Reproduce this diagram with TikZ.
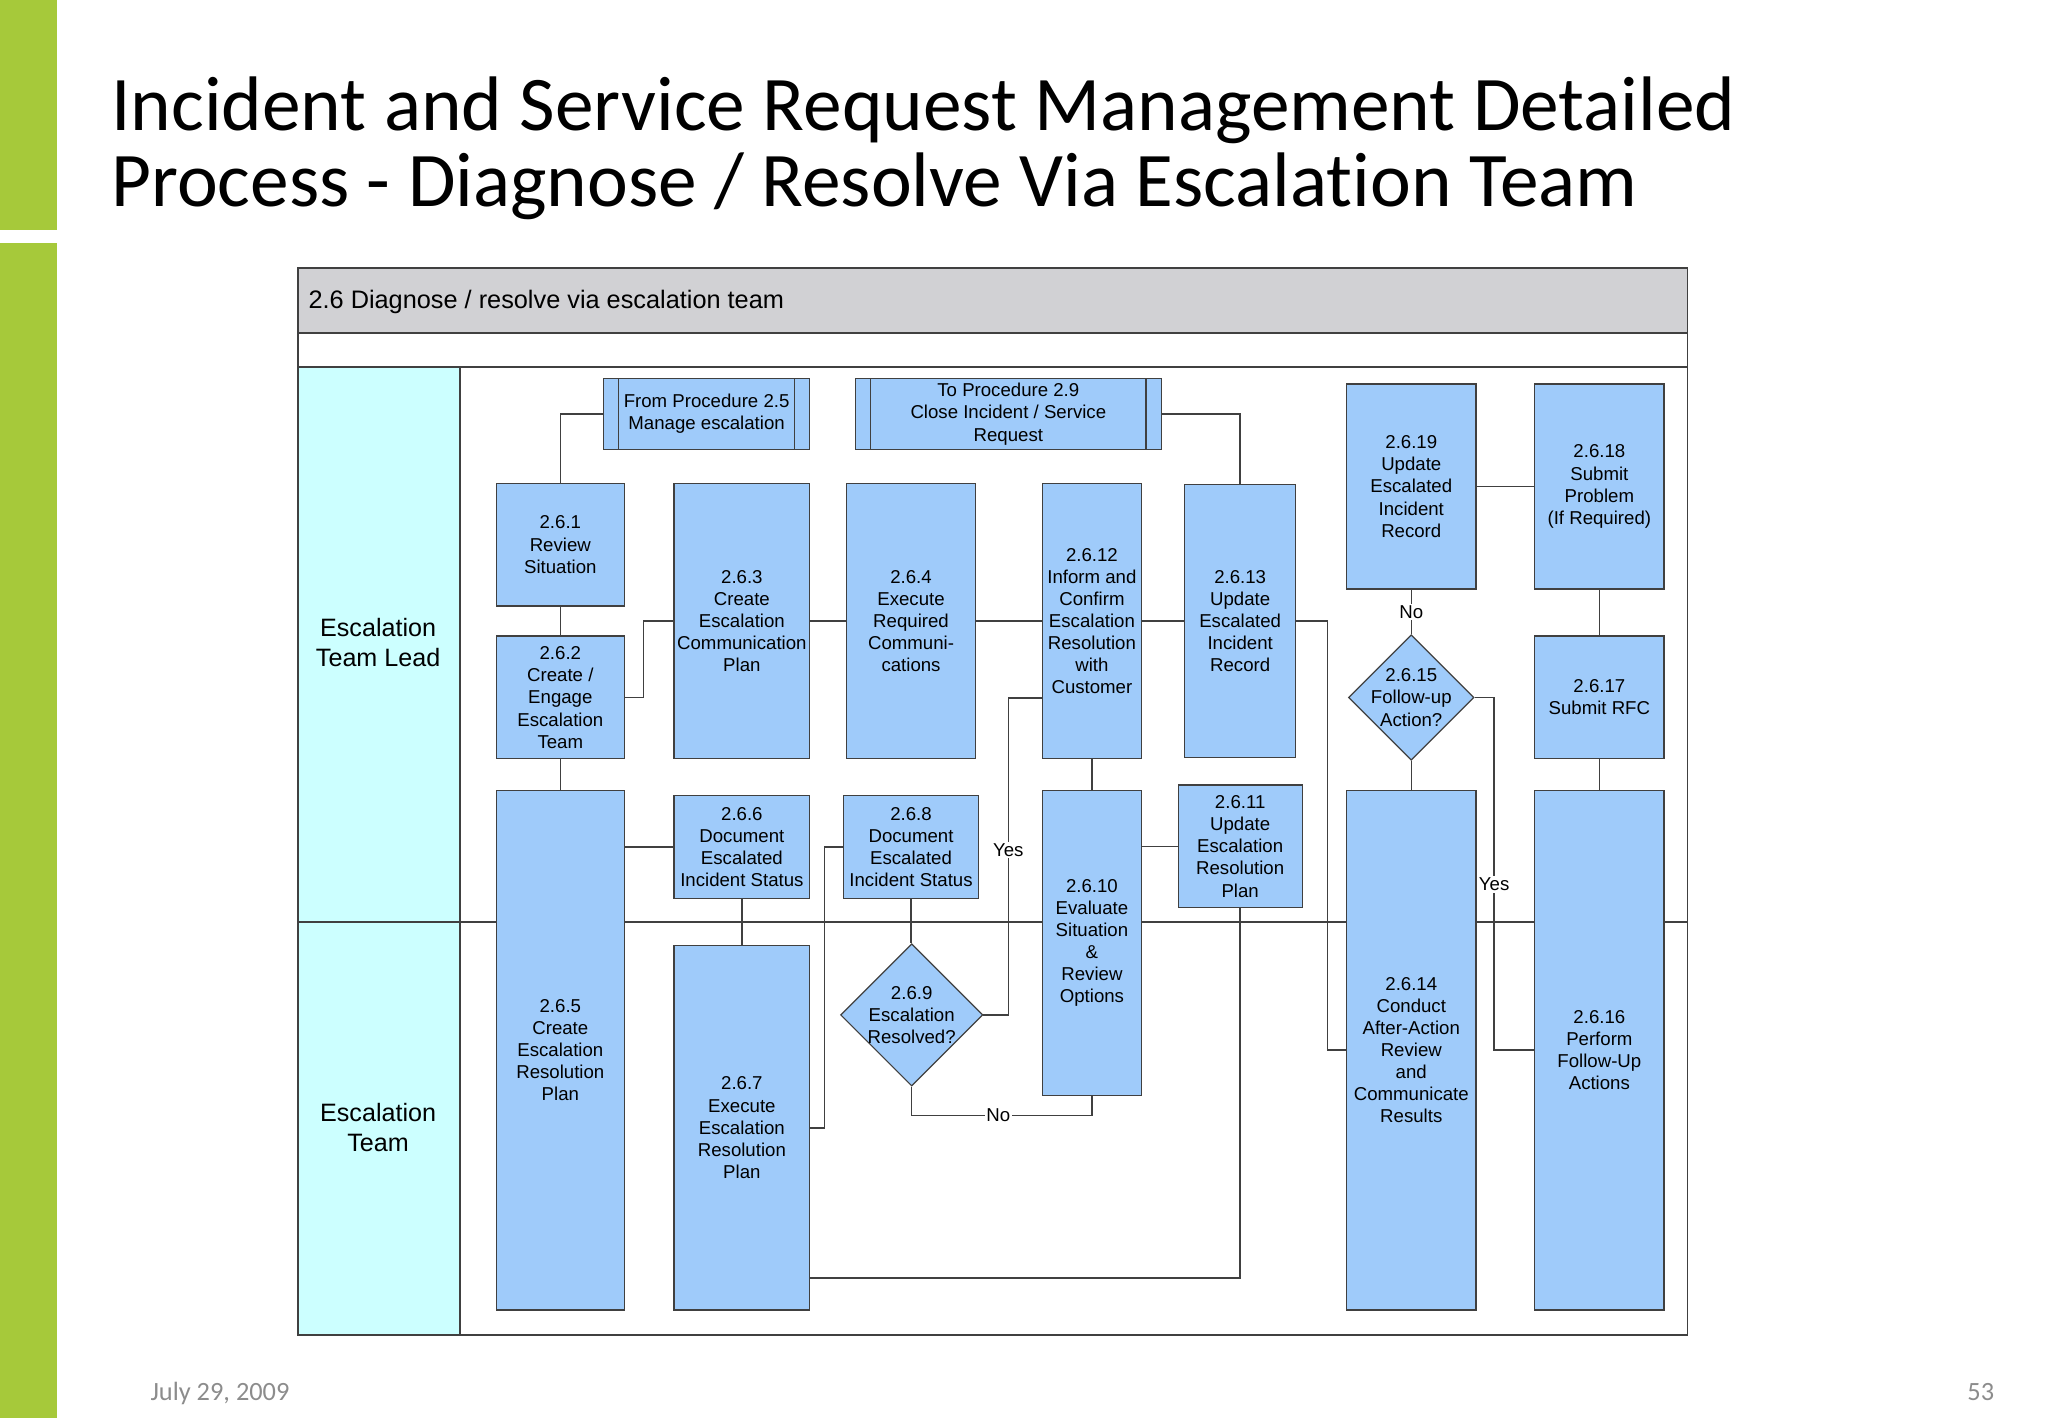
\documentclass[tikz,border=0pt]{standalone}
\usepackage{fontspec}
\setmainfont{Liberation Sans}
\newfontfamily\tituloFont[Ligatures=NoCommon]{Carlito}
\usetikzlibrary{shapes.geometric,calc}
\definecolor{cajaAzul}{RGB}{159,203,250}
\definecolor{lineaGris}{RGB}{64,64,64}
\definecolor{carrilCian}{RGB}{204,255,255}
\definecolor{cabGris}{RGB}{209,209,212}
\definecolor{verdeBarra}{RGB}{166,201,58}
\definecolor{pieGris}{RGB}{140,140,140}
\newcommand{\pxu}{0.02612cm}
\newcommand{\textoCaja}{\fontsize{10.6pt}{12.6pt}\selectfont}
\tikzset{
  tam/.style 2 args={minimum width=#1*\pxu, minimum height=#2*\pxu},
  caja/.style={rectangle, draw=lineaGris, line width=0.7pt, fill=cajaAzul,
    align=center, font=\textoCaja, inner sep=1pt},
  decision/.style={diamond, draw=lineaGris, line width=0.7pt, fill=cajaAzul,
    inner sep=0pt, minimum size=#1*\pxu},
  textoDecision/.style={align=center, font=\textoCaja, inner sep=0pt},
  carril/.style={align=center, font=\fontsize{14.3pt}{17pt}\selectfont},
  etiqueta/.style={fill=white, inner sep=1pt, font=\textoCaja},
  conector/.style={draw=lineaGris, line width=0.8pt},
  marco/.style={draw=lineaGris, line width=1pt},
}

\begin{document}
\begin{tikzpicture}[x=\pxu, y=-\pxu]
    \useasboundingbox (0,0) rectangle (1568,1086);
    % slide
    \fill[verdeBarra] (0,0) rectangle (44,176);
    \fill[verdeBarra] (0,186) rectangle (44,1086);
    \node[anchor=base west, inner sep=0pt, font=\tituloFont\fontsize{44pt}{50pt}\selectfont] (titulo1) at (85,100)
          {Incident and Service Request Management Detailed};
    \node[anchor=base west, inner sep=0pt, font=\tituloFont\fontsize{44pt}{50pt}\selectfont] (titulo2) at (85,158)
          {Process - Diagnose / Resolve Via Escalation Team};
    \node[anchor=base west, inner sep=0pt, text=pieGris, font=\tituloFont\fontsize{15pt}{17pt}\selectfont] (fecha) at (115,1072) {July 29, 2009};
    \node[anchor=base east, inner sep=0pt, text=pieGris, font=\tituloFont\fontsize{15pt}{17pt}\selectfont] (pagina) at (1527,1072) {53};

    % swimlane frame
    \fill[cabGris] (228,205) rectangle (1292,255);
    \fill[carrilCian] (228,281) rectangle (352,1022);
    \draw[marco] (228,205) rectangle (1292,1022);
    \draw[marco] (228,255) -- (1292,255);
    \draw[marco] (228,281) -- (1292,281);
    \draw[marco] (352,281) -- (352,1022);
    \draw[marco] (228,706) -- (1292,706);
    \node[anchor=base west, inner sep=0pt, font=\fontsize{14.4pt}{16pt}\selectfont] (cabecera) at (236,236)
          {2.6 Diagnose / resolve via escalation team};
    \node[carril] (lider) at (289.5,492) {Escalation\\Team Lead};
    \node[carril] (equipo) at (289.5,863) {Escalation\\Team};

    % top lane
    \node[caja, tam={158}{54}] (from25) at (541,317) {From Procedure 2.5\\Manage escalation};
    \node[caja, tam={234}{54}] (to29)   at (772,317) {To Procedure 2.9\\Close Incident / Service\\Request};
    \node[caja, tam={98}{94}]   (n261)  at (429,417)    {2.6.1\\Review\\Situation};
    \node[caja, tam={98}{94}]   (n262)  at (429,534)    {2.6.2\\Create /\\Engage\\Escalation\\Team};
    \node[caja, tam={104}{211}] (n263)  at (568,475.5)  {2.6.3\\Create\\Escalation\\Communication\\Plan};
    \node[caja, tam={99}{211}]  (n264)  at (697.5,475.5) {2.6.4\\Execute\\Required\\Communi-\\cations};
    \node[caja, tam={76}{211}]  (n2612) at (836,475.5)  {2.6.12\\Inform and\\Confirm\\Escalation\\Resolution\\with\\Customer};
    \node[caja, tam={85}{209}]  (n2613) at (949.5,475.5) {2.6.13\\Update\\Escalated\\Incident\\Record};
    \node[caja, tam={99}{157}]  (n2619) at (1080.5,372.5) {2.6.19\\Update\\Escalated\\Incident\\Record};
    \node[caja, tam={99}{157}]  (n2618) at (1224.5,372.5) {2.6.18\\Submit\\Problem\\(If Required)};
    \node[decision=96] (d2615) at (1080.5,534) {};
    \node[textoDecision] (t2615) at (d2615) {2.6.15\\Follow-up\\Action?};
    \node[caja, tam={99}{94}]   (n2617) at (1224.5,534) {2.6.17\\Submit RFC};

    % bottom lane
    \node[caja, tam={98}{398}]  (n265)  at (429,804)    {2.6.5\\Create\\Escalation\\Resolution\\Plan};
    \node[caja, tam={104}{79}]  (n266)  at (568,648.5)  {2.6.6\\Document\\Escalated\\Incident Status};
    \node[caja, tam={103}{79}]  (n268)  at (697.5,648.5) {2.6.8\\Document\\Escalated\\Incident Status};
    \node[caja, tam={104}{279}] (n267)  at (568,863.5)  {2.6.7\\Execute\\Escalation\\Resolution\\Plan};
    \node[decision=109] (d269) at (698,777) {};
    \node[textoDecision] (t269) at (d269) {2.6.9\\Escalation\\Resolved?};
    \node[caja, tam={76}{234}]  (n2610) at (836,722)    {2.6.10\\Evaluate\\Situation\\\&\\Review\\Options};
    \node[caja, tam={95}{94}]   (n2611) at (949.5,648)  {2.6.11\\Update\\Escalation\\Resolution\\Plan};
    \node[caja, tam={99}{398}]  (n2614) at (1080.5,804) {2.6.14\\Conduct\\After-Action\\Review\\and\\Communicate\\Results};
    \node[caja, tam={99}{398}]  (n2616) at (1224.5,804) {2.6.16\\Perform\\Follow-Up\\Actions};

    % sub-process bars
    \foreach \n in {from25,to29} {
      \draw[conector] ([xshift=12*\pxu]\n.north west) -- ([xshift=12*\pxu]\n.south west);
      \draw[conector] ([xshift=-12*\pxu]\n.north east) -- ([xshift=-12*\pxu]\n.south east);
    }

    % flow
    \draw[conector] (from25.west) -| (n261.north);
    \draw[conector] (n261) -- (n262);
    \draw[conector] (n262.east) -- ++(14,0) |- (n263.west);
    \draw[conector] (n263) -- (n264);
    \draw[conector] (n264) -- (n2612);
    \draw[conector] (n2612) -- (n2613);
    \draw[conector] (to29.east) -| (n2613.north);
    \draw[conector] (n2613.east) -- ++(24,0) |- (n2614.west);
    \draw[conector] (n2619) -- (n2618);
    \draw[conector] (n2619) -- node[etiqueta] {No} (d2615);
    \draw[conector] (n2618) -- (n2617);
    \draw[conector] (d2615.east) -- ++(15,0) |- node[etiqueta, pos=0.265] {Yes} (n2616.west);
    \draw[conector] (d2615) -- (n2614);
    \draw[conector] (n2617) -- (n2616);
    \draw[conector] (n262) -- (n265);
    \draw[conector] (n266.west) -- (n266.west -| n265.east);
    \draw[conector] (n266) -- (n267);
    \draw[conector] (n267.east) -- ++(11,0) |- (n268.west);
    \draw[conector] (n268.south) -- (n268.south |- d269.north);
    \draw[conector] (d269.east) -- ++(19,0) |- node[etiqueta, pos=0.26] {Yes} ($(n2612.west)+(0,59)$);
    \draw[conector] (d269.south) -- ++(0,22) -| node[etiqueta, pos=0.24] {No} (n2610.south);
    \draw[conector] (n2612) -- (n2610);
    \draw[conector] (n2611.west) -- (n2611.west -| n2610.east);
    \draw[conector] (n2611.south) |- ($(n267.south east)+(0,-25)$);
\end{tikzpicture}
\end{document}
